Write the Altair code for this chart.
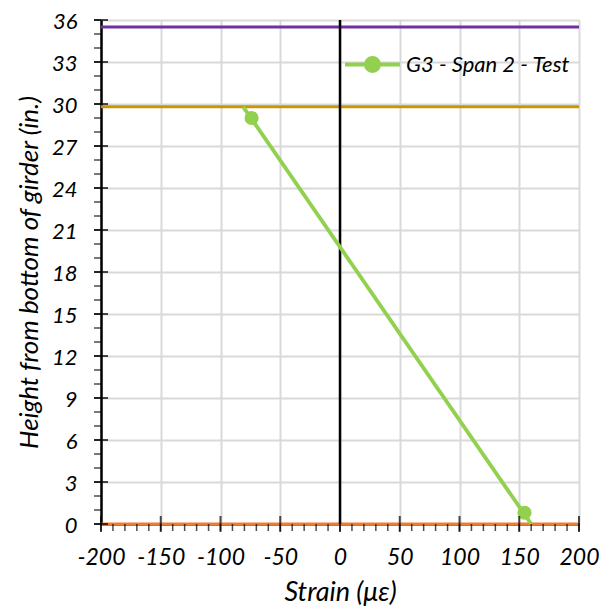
import altair as alt
import pandas as pd

# ---- data ----
line_x = [-81.0, 160.0]          # fitted strain profile, extended to the reference lines
line_y = [29.8, 0.0]
gauge_x = [-74.0, 154.4]         # measured gauges
gauge_y = [29.0, 0.8]
series_name = "G3 - Span 2 - Test"

ref_levels = [35.5, 29.8, 0.0]
ref_colors = ["#7030A0", "#C99700", "#ED7D31"]

x_ticks = [-200, -150, -100, -50, 0, 50, 100, 150, 200]
x_minor = list(range(-200, 201, 10))
y_ticks = list(range(0, 37, 3))
y_minor = list(range(0, 37, 1))

FONT = "Lato"
GREEN = "#92D050"
GRID = "#D9D9D9"

xs = alt.Scale(domain=[-200, 200], nice=False, zero=False)
ys = alt.Scale(domain=[0, 36], nice=False, zero=False)

x_axis = alt.Axis(values=x_ticks, grid=True, gridColor=GRID, gridWidth=2,
                  ticks=False, domain=True, domainColor="black", domainWidth=2,
                  labelFont=FONT, labelFontSize=23, labelFontStyle="italic", labelColor="black",
                  labelPadding=22, labelFlush=False, labelExpr="'' + datum.value",
                  title="Strain (με)", titleFont=FONT, titleFontSize=27,
                  titleFontStyle="italic", titleFontWeight="normal", titleColor="black",
                  titlePadding=10)
y_axis = alt.Axis(values=y_ticks, grid=True, gridColor=GRID, gridWidth=2,
                  ticks=False, domain=True, domainColor="black", domainWidth=2.5,
                  labelFont=FONT, labelFontSize=22, labelFontStyle="italic", labelColor="black",
                  labelPadding=24, labelFlush=False, labelOffset=1.5,
                  labelExpr="'' + datum.value",
                  title="Height from bottom of girder (in.)", titleFont=FONT, titleFontSize=26,
                  titleFontStyle="italic", titleFontWeight="normal", titleColor="black",
                  titlePadding=9)

base_df = pd.DataFrame({"x": x_ticks, "y": [0] * len(x_ticks)})
base = alt.Chart(base_df).mark_point(opacity=0).encode(
    x=alt.X("x:Q", scale=xs, axis=x_axis),
    y=alt.Y("y:Q", scale=ys, axis=y_axis),
)

# minor ticks (outside only)
xminor = alt.Chart(pd.DataFrame({"x": x_minor})).mark_tick(
    orient="vertical", size=7, thickness=1.5, color="black", yOffset=3.5
).encode(x=alt.X("x:Q", scale=xs), y=alt.datum(0, scale=ys))
yminor = alt.Chart(pd.DataFrame({"y": y_minor})).mark_tick(
    orient="horizontal", size=7, thickness=1.5, color="black", xOffset=-3.5
).encode(y=alt.Y("y:Q", scale=ys), x=alt.datum(-200, scale=xs))
# major ticks (crossing the axis line)
xmajor = alt.Chart(pd.DataFrame({"x": x_ticks})).mark_tick(
    orient="vertical", size=16, thickness=2, color="black"
).encode(x=alt.X("x:Q", scale=xs), y=alt.datum(0, scale=ys))
ymajor = alt.Chart(pd.DataFrame({"y": y_ticks})).mark_tick(
    orient="horizontal", size=14, thickness=2, color="black"
).encode(y=alt.Y("y:Q", scale=ys), x=alt.datum(-200, scale=xs))

zero_line = alt.Chart(pd.DataFrame({"x": [0]})).mark_rule(color="black", strokeWidth=2.5).encode(
    x=alt.X("x:Q", scale=xs))

refs = alt.Chart(pd.DataFrame({"y": ref_levels, "c": ref_colors})).mark_rule(strokeWidth=3).encode(
    y=alt.Y("y:Q", scale=ys),
    stroke=alt.Stroke("c:N", scale=None, legend=None),
)

fit_line = alt.Chart(pd.DataFrame({"x": line_x, "y": line_y})).mark_line(
    color=GREEN, strokeWidth=3.8
).encode(x=alt.X("x:Q", scale=xs), y=alt.Y("y:Q", scale=ys))

legend_path = ("M-1,0H1M-0.24,0A0.24,0.24,0,1,1,0.24,0"
               "A0.24,0.24,0,1,1,-0.24,0Z")
gauges = alt.Chart(pd.DataFrame({"x": gauge_x, "y": gauge_y, "s": [series_name] * 2})).mark_point(
    filled=True, size=200, opacity=1
).encode(
    x=alt.X("x:Q", scale=xs), y=alt.Y("y:Q", scale=ys),
    color=alt.Color("s:N", scale=alt.Scale(range=[GREEN]),
                    legend=alt.Legend(title=None, orient="none", legendX=242, legendY=15,
                                      symbolType=legend_path, symbolSize=3025,
                                      symbolStrokeColor=GREEN, symbolStrokeWidth=3.8,
                                      symbolFillColor=GREEN, symbolOpacity=1,
                                      labelFont=FONT, labelFontSize=22, labelFontStyle="italic",
                                      labelColor="black", labelOffset=4, labelLimit=400,
                                      padding=0)),
)

chart = alt.layer(base, refs, zero_line, fit_line, gauges, xminor, yminor, xmajor, ymajor).properties(
    width=478, height=504,
    autosize=alt.AutoSizeParams(type="none"),
    padding={"left": 93, "top": 12, "right": 23, "bottom": 87},
).configure_view(stroke=None).configure(background="white")

chart.save("out.html", embed_options={"renderer": "svg", "actions": False})
